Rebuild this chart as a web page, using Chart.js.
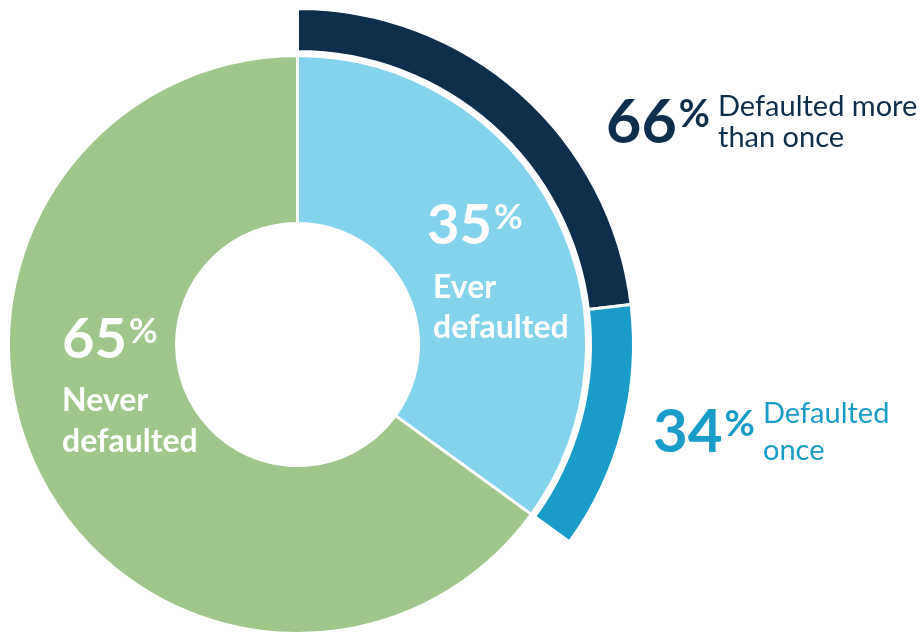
<!DOCTYPE html>
<html>
<head>
<meta charset="utf-8">
<script src="https://cdn.jsdelivr.net/npm/chart.js@4.4.0/dist/chart.umd.min.js"></script>
<style>
  html, body { margin: 0; padding: 0; background: #fff; overflow: hidden; }
  #wrap { width: 924px; height: 633px; position: relative; overflow: hidden; }
  #chart { position: absolute; left: -40px; top: 0; }
</style>
</head>
<body>
<div id="wrap"><canvas id="chart" width="964" height="682"></canvas></div>
<script>
// Inner ring: share of borrowers
const innerLabels = ["Ever defaulted", "Never defaulted"];
const innerValues = [35, 65];

// Outer ring: split of the "ever defaulted" group
const outerLabels = ["Defaulted more than once", "Defaulted once"];
const outerValues = [66, 34];

const green = "#A1C68C";
const lightBlue = "#83D3EC";
const navy = "#0E2E4B";
const midBlue = "#1A9CC9";

// canvas is shifted left so the ring can run off the page edge
const shiftX = 40;

// outer ring only covers the ever-defaulted slice, rest is left empty
const everShare = innerValues[0] / 100;
const outerData = outerValues.map(v => v * everShare).concat([innerValues[1]]);

const labelPlugin = {
    id: "labels",
    afterDraw(chart) {
        const ctx = chart.ctx;
        ctx.save();
        ctx.translate(shiftX, 0);
        ctx.textBaseline = "alphabetic";
        ctx.textAlign = "left";

        function pct(num, x, y, size, color) {
            ctx.fillStyle = color;
            ctx.font = "bold " + size + "px Lato";
            ctx.fillText(num, x, y);
            const w = ctx.measureText(num).width;
            ctx.font = "bold " + Math.round(size * 0.62) + "px Lato";
            ctx.fillText("%", x + w + 2, y - size * 0.27);
        }
        function line(txt, x, y, size, color, weight) {
            ctx.fillStyle = color;
            ctx.font = weight + " " + size + "px Lato";
            ctx.fillText(txt, x, y);
        }

        pct(String(innerValues[0]), 427, 244, 56, "#fff");
        line("Ever", 433, 298, 32, "#fff", "bold");
        line("defaulted", 433, 338, 32, "#fff", "bold");

        pct(String(innerValues[1]), 62, 358, 56, "#fff");
        line("Never", 62, 411, 32, "#fff", "bold");
        line("defaulted", 62, 452, 32, "#fff", "bold");

        pct(String(outerValues[0]), 606, 143, 61, navy);
        line("Defaulted more", 718, 116, 29, navy, "normal");
        line("than once", 718, 147, 29, navy, "normal");

        pct(String(outerValues[1]), 653, 452, 60, midBlue);
        line("Defaulted", 763, 423, 29, midBlue, "normal");
        line("once", 763, 460, 29, midBlue, "normal");
        ctx.restore();
    }
};

new Chart(document.getElementById("chart"), {
    type: "doughnut",
    data: {
        labels: outerLabels.concat([""]),
        datasets: [
            {
                data: outerData,
                backgroundColor: [navy, midBlue, "rgba(0,0,0,0)"],
                borderColor: "#fff",
                borderWidth: 3,
                weight: 43
            },
            {
                // thin empty gap between the two rings
                data: [1],
                backgroundColor: ["rgba(0,0,0,0)"],
                borderWidth: 0,
                weight: 4
            },
            {
                data: innerValues,
                backgroundColor: [lightBlue, green],
                borderColor: "#fff",
                borderWidth: 3,
                weight: 168
            }
        ]
    },
    options: {
        responsive: false,
        animation: false,
        cutout: 121,
        layout: { padding: { left: 0, right: 289, top: 7, bottom: 0 } },
        plugins: {
            legend: { display: false },
            tooltip: { enabled: false }
        }
    },
    plugins: [labelPlugin]
});
</script>
</body>
</html>
